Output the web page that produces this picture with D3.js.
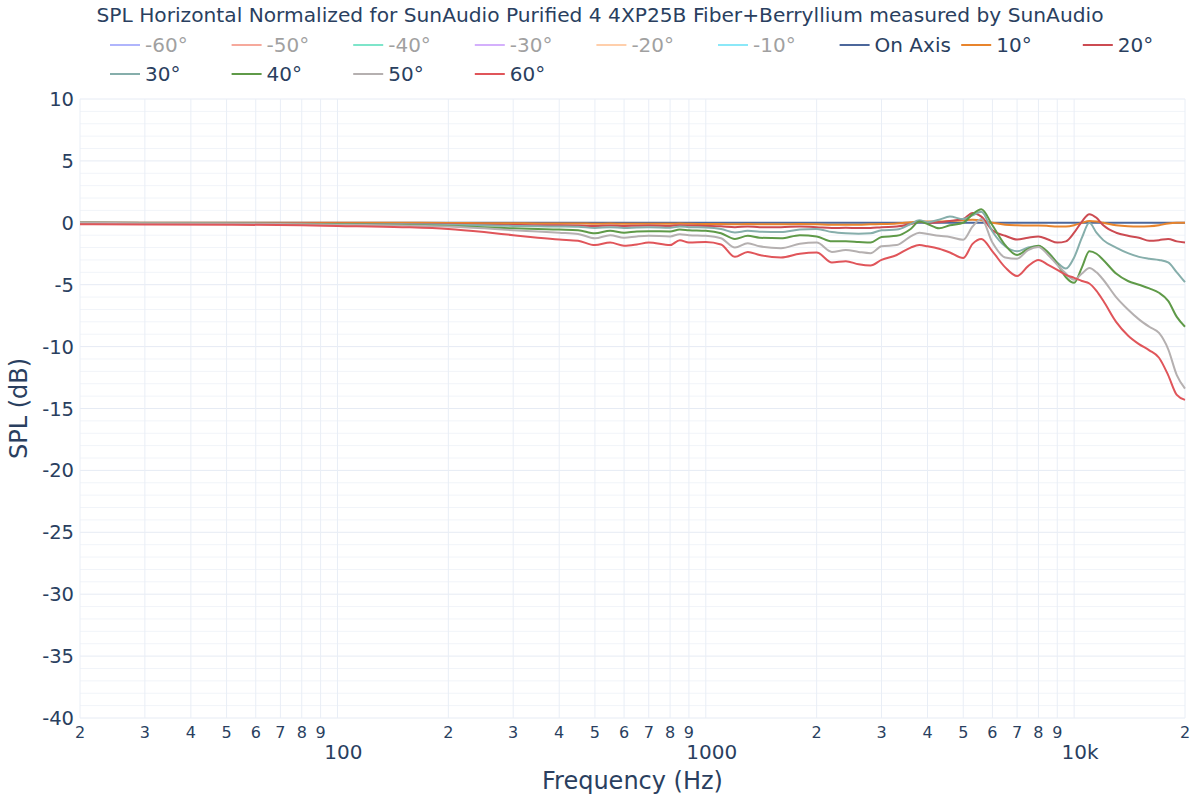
<!DOCTYPE html>
<html>
<head>
<meta charset="utf-8">
<script src="https://cdn.jsdelivr.net/npm/d3@7"></script>
<style>
  html, body { margin: 0; padding: 0; background: #fff; }
  svg { display: block; font-family: "DejaVu Sans", Verdana, sans-serif; }
</style>
</head>
<body>
<svg id="chart" width="1200" height="800"></svg>
<script>
// ---------- DATA ----------
const titleText = "SPL Horizontal Normalized for SunAudio Purified 4 4XP25B Fiber+Berryllium measured by SunAudio";

const freqs = [20,30,50,80,100,150,200,250,300,350,400,450,500,550,600,650,700,800,850,900,
  1000,1100,1200,1300,1400,1600,1800,2000,2200,2400,2600,2800,3000,3300,3600,3800,4000,4300,4600,5000,
  5300,5600,6000,6500,7000,7500,8000,8500,9000,9500,10000,10500,11000,11500,12000,13000,14000,15000,16000,17000,
  18000,19000,20000];

const onAxis = [0,0,0,0,0,0,0,0,0,0, 0,0,0,0,0,0,0,0,0,0, 0,0,0,0,0,0,0,0,0,0,
  0,0,0,0,0,0,0,0,0,0, 0,0,0,0,0,0,0,0,0,0, 0,0,0,0,0,0,0,0,0,0, 0,0,0];

const deg10 = [0,0,0,0,0,0,-0.02,-0.03,-0.04,-0.05, -0.05,-0.05,-0.08,-0.06,-0.08,-0.07,-0.07,-0.08,-0.06,-0.08,
  -0.1,-0.1,-0.12,-0.1,-0.12,-0.12,-0.1,-0.12,-0.15,-0.15, -0.15,-0.12,-0.1,-0.05,0.05,0.1,0.1,0.1,0.15,0.2,
  0.25,0.2,0.0,-0.15,-0.2,-0.22,-0.22,-0.25,-0.3,-0.3, -0.2,0.0,0.15,0.1,0.0,-0.2,-0.28,-0.3,-0.28,-0.2,
  -0.05,0.0,0.0];

const deg20 = [0,-0.02,-0.04,-0.06,-0.08,-0.1,-0.12,-0.15,-0.18,-0.2, -0.2,-0.22,-0.25,-0.22,-0.25,-0.23,-0.22,-0.25,-0.2,-0.22,
  -0.25,-0.28,-0.35,-0.3,-0.35,-0.35,-0.3,-0.35,-0.42,-0.4, -0.43,-0.42,-0.35,-0.3,-0.1,0.1,0.0,0.05,0.15,0.3,
  0.8,0.5,-0.6,-1.05,-1.35,-1.2,-1.1,-1.35,-1.6,-1.5, -0.8,0.1,0.7,0.4,-0.2,-0.8,-1.05,-1.2,-1.45,-1.4,
  -1.3,-1.5,-1.6];

const deg30 = [0,-0.02,-0.05,-0.08,-0.1,-0.12,-0.15,-0.2,-0.25,-0.28, -0.3,-0.32,-0.42,-0.35,-0.42,-0.38,-0.36,-0.4,-0.3,-0.35,
  -0.38,-0.5,-0.78,-0.65,-0.72,-0.75,-0.55,-0.5,-0.75,-0.85, -0.88,-0.85,-0.6,-0.55,-0.1,0.2,0.05,0.25,0.5,0.3,
  0.6,0.9,-0.7,-1.9,-2.3,-2.0,-1.9,-2.4,-3.2,-3.7, -2.8,-1.2,0.0,-0.8,-1.4,-2.0,-2.45,-2.75,-2.9,-3.0,
  -3.2,-4.0,-4.8];

const deg40 = [0,-0.02,-0.05,-0.1,-0.12,-0.18,-0.25,-0.35,-0.45,-0.5, -0.55,-0.6,-0.85,-0.65,-0.8,-0.7,-0.68,-0.7,-0.55,-0.6,
  -0.65,-0.85,-1.3,-1.05,-1.2,-1.25,-1.0,-1.1,-1.5,-1.5, -1.55,-1.6,-1.15,-1.05,-0.5,0.1,-0.1,-0.45,-0.2,0.0,
  0.7,1.1,-0.2,-1.8,-2.6,-2.1,-1.85,-2.4,-3.3,-4.4, -4.85,-3.6,-2.3,-2.5,-3.0,-4.1,-4.7,-5.0,-5.3,-5.65,
  -6.3,-7.6,-8.4];

const deg50 = [0,-0.03,-0.06,-0.12,-0.15,-0.22,-0.3,-0.45,-0.6,-0.7, -0.8,-0.9,-1.25,-1.0,-1.2,-1.1,-1.05,-1.1,-0.92,-1.0,
  -1.05,-1.25,-2.0,-1.65,-1.9,-2.05,-1.7,-1.6,-2.35,-2.2, -2.35,-2.45,-1.9,-1.8,-1.1,-0.8,-0.9,-1.05,-1.15,-1.37,
  -0.3,0.3,-1.6,-2.8,-2.9,-2.2,-1.95,-2.6,-3.4,-4.1, -4.6,-4.1,-3.65,-4.0,-4.6,-6.0,-7.0,-7.8,-8.4,-8.9,
  -10.2,-12.3,-13.4];

const deg60 = [-0.12,-0.13,-0.15,-0.2,-0.25,-0.35,-0.5,-0.75,-1.0,-1.2, -1.35,-1.45,-1.8,-1.6,-1.85,-1.75,-1.6,-1.8,-1.4,-1.6,
  -1.55,-1.75,-2.75,-2.35,-2.6,-2.8,-2.5,-2.4,-3.2,-3.1, -3.35,-3.45,-3.0,-2.6,-2.0,-1.8,-1.9,-2.1,-2.4,-2.85,
  -1.7,-1.3,-2.3,-3.6,-4.3,-3.5,-3.0,-3.4,-3.8,-4.2, -4.45,-4.7,-4.9,-5.5,-6.3,-8.0,-9.1,-9.8,-10.3,-10.9,
  -12.3,-13.9,-14.3];

const legendNames  = ["-60°","-50°","-40°","-30°","-20°","-10°","On Axis","10°","20°","30°","40°","50°","60°"];
const legendColors = ["#636efa","#ef553b","#00cc96","#ab63fa","#ffa15a","#19d3f3","#4c679b","#e8842c","#cc4b52","#86aeab","#5f9a48","#b5b0b0","#e0555a"];
const legendHidden = [true,true,true,true,true,true,false,false,false,false,false,false,false];

const visibleNames  = ["On Axis","10°","20°","30°","40°","50°","60°"];
const visibleValues = [onAxis, deg10, deg20, deg30, deg40, deg50, deg60];

const yTicks = [10,5,0,-5,-10,-15,-20,-25,-30,-35,-40];
const xMajorTicks = [100,1000,10000];
const xMajorLabels = ["100","1000","10k"];

// ---------- LAYOUT ----------
const svg = d3.select("#chart");
const W = 1200, H = 800;
const plot = {left: 80, right: 1185, top: 99, bottom: 718};
const textColor = "#2a3f5f";

svg.append("rect").attr("width", W).attr("height", H).attr("fill", "#fff");

const x = d3.scaleLog().domain([20, 20000]).range([plot.left, plot.right]);
const y = d3.scaleLinear().domain([-40, 10]).range([plot.bottom, plot.top]);

// grid
const grid = svg.append("g");
const yMinor = d3.range(-40, 11, 1).filter(v => v % 5 !== 0);
grid.selectAll(".ymin").data(yMinor).enter().append("line")
  .attr("x1", plot.left).attr("x2", plot.right)
  .attr("y1", d => y(d)).attr("y2", d => y(d))
  .attr("stroke", "#f1f4f9").attr("stroke-width", 1);
grid.selectAll(".ymaj").data(yTicks).enter().append("line")
  .attr("x1", plot.left).attr("x2", plot.right)
  .attr("y1", d => y(d)).attr("y2", d => y(d))
  .attr("stroke", "#e6ebf4").attr("stroke-width", 1);

const xAllTicks = x.ticks(30).filter(v => v >= 20 && v <= 20000);
grid.selectAll(".xg").data(xAllTicks).enter().append("line")
  .attr("x1", d => x(d)).attr("x2", d => x(d))
  .attr("y1", plot.top).attr("y2", plot.bottom)
  .attr("stroke", "#e9eef6").attr("stroke-width", 1);

// lines
const line = d3.line()
  .x((d, i) => x(freqs[i]))
  .y(d => y(d))
  .curve(d3.curveMonotoneX);

const colorOf = name => legendColors[legendNames.indexOf(name)];
const lines = svg.append("g");
visibleValues.forEach((vals, k) => {
  lines.append("path")
    .datum(vals)
    .attr("d", line)
    .attr("fill", "none")
    .attr("stroke", colorOf(visibleNames[k]))
    .attr("stroke-width", 2)
    .attr("stroke-linejoin", "round");
});

// y axis labels
svg.append("g").selectAll("text").data(yTicks).enter().append("text")
  .attr("x", plot.left - 6).attr("y", d => y(d))
  .attr("dy", "0.36em").attr("text-anchor", "end")
  .attr("fill", textColor).attr("font-size", 19.5)
  .text(d => d);

// x axis minor labels (digits)
const xMinor = xAllTicks.filter(v => xMajorTicks.indexOf(v) < 0);
svg.append("g").selectAll("text").data(xMinor).enter().append("text")
  .attr("x", d => x(d)).attr("y", 732)
  .attr("dy", "0.36em").attr("text-anchor", "middle")
  .attr("fill", textColor).attr("font-size", 16)
  .text(d => String(d).charAt(0));

// x major labels
svg.append("g").selectAll("text").data(xMajorTicks).enter().append("text")
  .attr("x", d => x(d) + 6).attr("y", 752)
  .attr("dy", "0.36em").attr("text-anchor", "middle")
  .attr("fill", textColor).attr("font-size", 20)
  .text((d, i) => xMajorLabels[i]);

// axis titles
svg.append("text")
  .attr("x", (plot.left + plot.right) / 2).attr("y", 780)
  .attr("dy", "0.36em").attr("text-anchor", "middle")
  .attr("fill", textColor).attr("font-size", 24)
  .text("Frequency (Hz)");
svg.append("text")
  .attr("transform", `translate(18, ${(plot.top + plot.bottom) / 2}) rotate(-90)`)
  .attr("dy", "0.36em").attr("text-anchor", "middle")
  .attr("fill", textColor).attr("font-size", 24)
  .text("SPL (dB)");

// title
svg.append("text")
  .attr("x", 600).attr("y", 15)
  .attr("dy", "0.36em").attr("text-anchor", "middle")
  .attr("fill", textColor).attr("font-size", 20.2)
  .text(titleText);

// legend
const leg = svg.append("g");
legendNames.forEach((name, i) => {
  const row = Math.floor(i / 9), col = i % 9;
  const gx = 105 + col * 121.6, gy = 45 + row * 29;
  const g = leg.append("g").attr("opacity", legendHidden[i] ? 0.5 : 1);
  g.append("line").attr("x1", gx + 5).attr("x2", gx + 35)
    .attr("y1", gy).attr("y2", gy)
    .attr("stroke", legendColors[i]).attr("stroke-width", 2);
  g.append("text").attr("x", gx + 40).attr("y", gy)
    .attr("dy", "0.36em").attr("fill", legendHidden[i] ? "#444" : textColor)
    .attr("font-size", 20).text(name);
});
</script>
</body>
</html>
